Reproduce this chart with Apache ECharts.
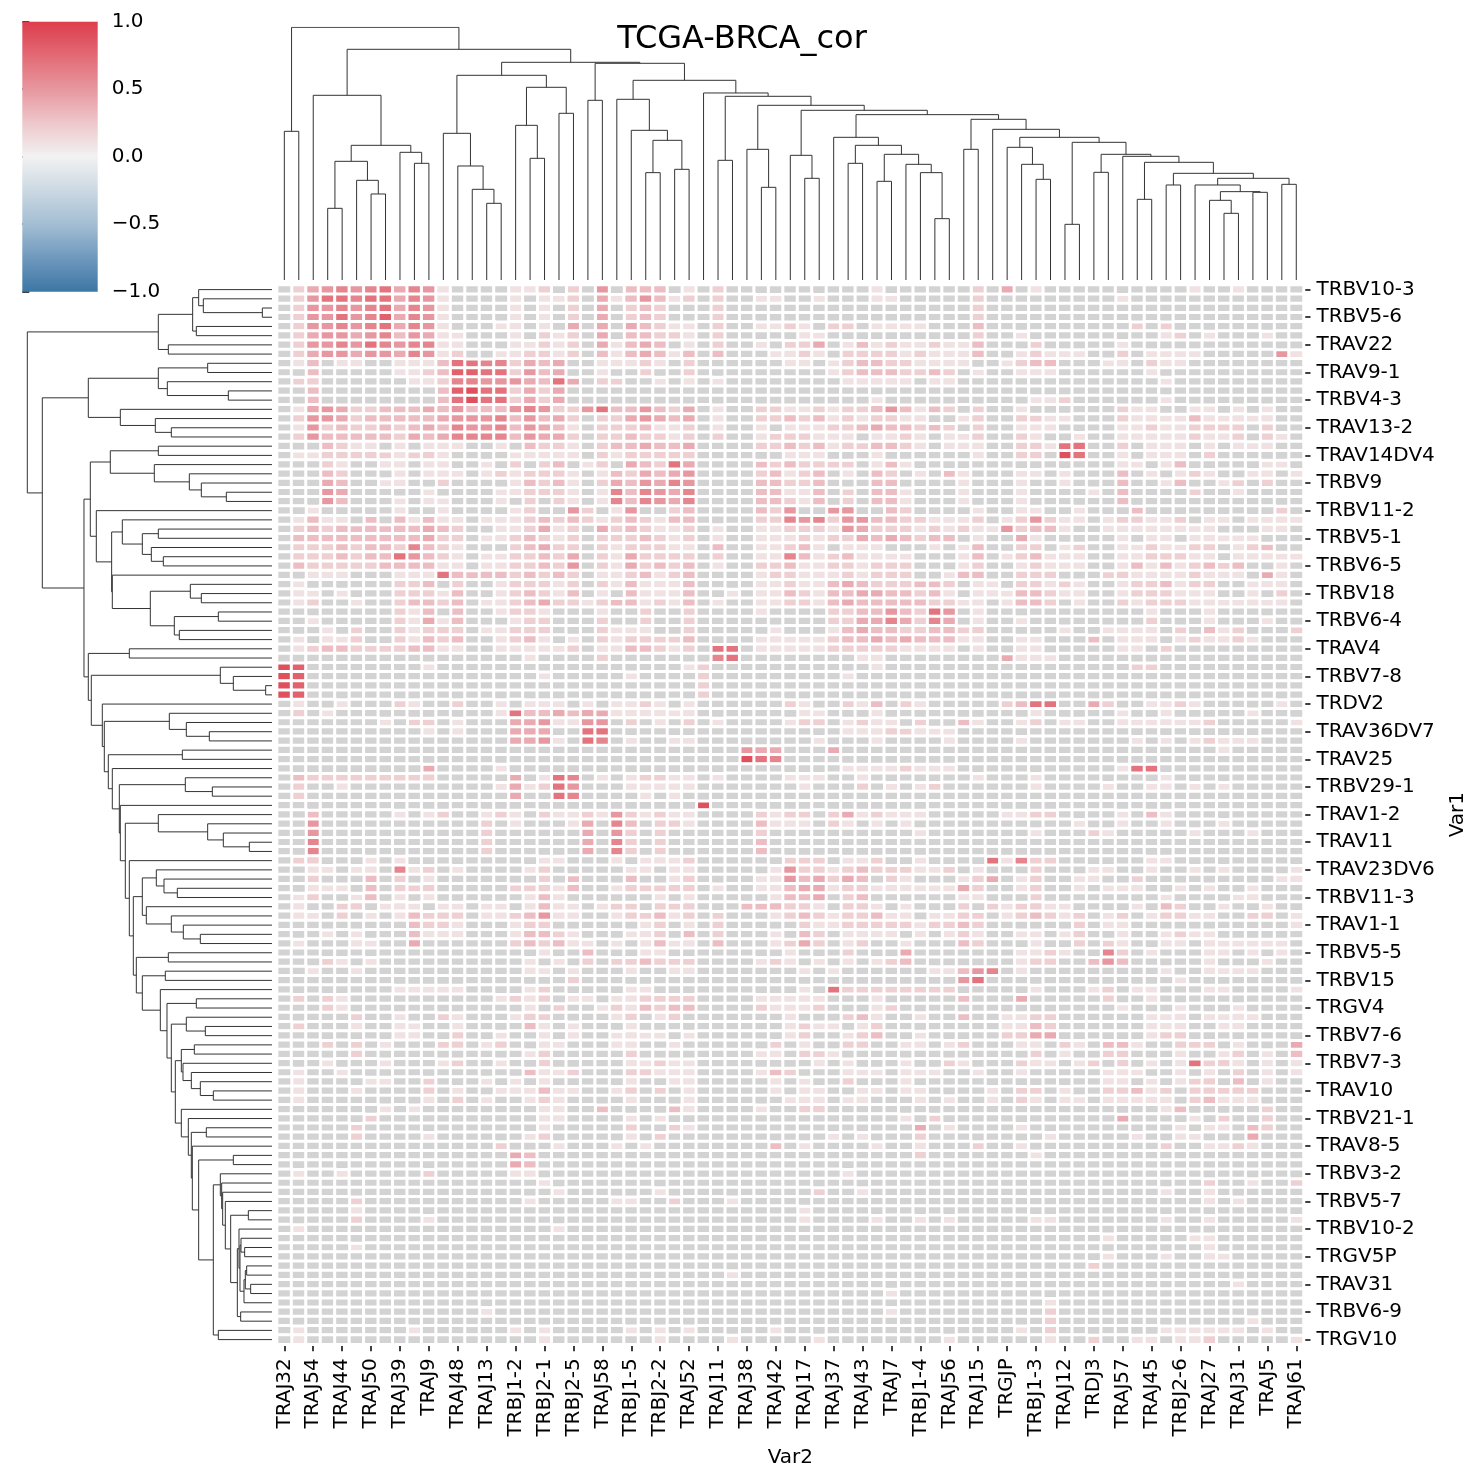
<!DOCTYPE html>
<html><head><meta charset="utf-8">
<script src="https://cdn.jsdelivr.net/npm/echarts/dist/echarts.min.js"></script>
<style>html,body{margin:0;padding:0;background:#fff}#c{width:1484px;height:1484px}</style>
</head><body><div id="c"></div>
<script>
// ---------------- data ----------------
const xLabels = ['TRAJ32','TRAJ54','TRAJ44','TRAJ50','TRAJ39','TRAJ9','TRAJ48','TRAJ13','TRBJ1-2','TRBJ2-1','TRBJ2-5','TRAJ58','TRBJ1-5','TRBJ2-2','TRAJ52','TRAJ11','TRAJ38','TRAJ42','TRAJ17','TRAJ37','TRAJ43','TRAJ7','TRBJ1-4','TRAJ56','TRAJ15','TRGJP','TRBJ1-3','TRAJ12','TRDJ3','TRAJ57','TRAJ45','TRBJ2-6','TRAJ27','TRAJ31','TRAJ5','TRAJ61'];
const yLabels = ['TRBV10-3','TRBV5-6','TRAV22','TRAV9-1','TRBV4-3','TRAV13-2','TRAV14DV4','TRBV9','TRBV11-2','TRBV5-1','TRBV6-5','TRBV18','TRBV6-4','TRAV4','TRBV7-8','TRDV2','TRAV36DV7','TRAV25','TRBV29-1','TRAV1-2','TRAV11','TRAV23DV6','TRBV11-3','TRAV1-1','TRBV5-5','TRBV15','TRGV4','TRBV7-6','TRBV7-3','TRAV10','TRBV21-1','TRAV8-5','TRBV3-2','TRBV5-7','TRBV10-2','TRGV5P','TRAV31','TRBV6-9','TRGV10'];
const colorbarTicks = [-1, -0.5, 0, 0.5, 1];
// correlation levels per cell: '.' = not shown (grey), digit d = correlation d/10
const cellsCols0to23 = [
".24565674651....112.2.5.",".25776774651....1.112.41",".25565674651....1.1.2.4.",".25575684651....1.1.2.4.",
".25565674651...11.1.4.4.",".245545635411...1.212.4.",".255657656611...11212.41",".245545546512..112212.31",
".13.11..111377662434..11","..3.....112388772534..1.",".22......112665554374.22","..3........389772424....",
"..3........379772424....",".14542233343533356522573",".25542333334555635342.22",".15232232343655635431.22",
".25333332434666635442.22","...3211.1.111..1.3221.23",".11222221221....11111.21","...21..11.11..1.2.23.12.",
"...32...1.111.1212221.13","...43..11..2....13231.24","...54.....1....112221.16","...53...1.11...1.2.21.16",
"..1.....1..1....12..52.1",".1311.3.31311.1112323212",".232333333432..112412.42",".333333333422.1123212.22",
".222323326321...23422.21",".222323375321.1122324.21",".322222333311.1122325.21","..111...1117333323232.11",
".1......223.2..122212.21",".11.1...22213..123213.1.",".12..1..23323.1123422123","........213.3..1221...1.",
"..1.....21413...122...2.","...1.2..21222.11222...21",".1.112..21323..1231.1.21",".123322223311..111112.11",
".................1....2.","98........1.............","98................1.....","98......................",
"98......................",".1..1...21..2..1.111.1.1",".2.1...........173343441",".......1.22.1...4451155.",
"..........1.1...444..77.","................4451.76.","........................","........................",
"..........4....1........",".3222222222.....4.176.1.",".2..1..........141275...",".2..............4..76...",
"........................","..3.....1.12..121.211215","..5...........2.1...14.6","..5...........2......4.5",
"..6...........2......4.6","..6...........2......4.6",".22...1.1.........11...1","..11.11.612.1....12.....",
"..2...3.2.1.......2.3...","..111.3.222.....22213..1",".12..13.1.1......131....",".1..22.111.11.11.1311.12",
".11.2.1.13222.1123511..1",".........3221...122.....","...1.1...3111...13321...",".1...11..4......232311.1",
"..................1..3..","...21.1..........1.1.2.2","..1..1...........11.1...","....................2...",
"........11111....12.....",".2.21..........1212.11.1","...21............1.2..12",".....2..1..21...122....1",
".2...1..11..1....31.1...","........11..2..1..1.1..1","...2.2.1...22.12..11...1",".....2...........12.....",
"...1...1...12..1..2.....",".1..1............3112...",".1....11..2...1.1.1.....",".1...1....2.1..111311..1",
".1........1.2.1..121....",".......1.1........11..3.","......2...........11....",".....2............1.....",
".....2....1......12.....","...............2...1...1","................43......","................43......",
".1..1.....2.....11......","..................1.....","...................1....",".....2...........1.....1",
".....1..................",".....2....1.............",".1.................1....","........................",
".....1..................","........................","........................","........................",
"........................","........................","........................","..............1.........",
"........................",".1.......1......1.1.....",".1................1....."
];
const cellsCols24to47 = [
"333.1.2..........1......","35312.2..11..1...11.....","232...2.................","232...2.................",
"43211.2..1121.22.1111...","33221.2.....11..........","343.1.2..1.224.131211211","34313.3...1121.222212111",
"121.2......11.1233221111",".2..2.........123332232.","..1.1.1........11111.11.","........................",
".................1......","35324.1..22112122353132.","45434.1..223231212211..1","23112.1..1.111223433232.",
"32212.2..1222111.1121.11","34334....223231223321.11","22222......111...1......","43274....3232222.131....",
"24345....23123.1.32.1.31","35465....33223...33....1","36546....33113.2.331...1","36546....33213.2.331...1",
"5..23....325..55..32....","32133....226562553322111","32112.1..112221542221212","23212.1..11121224343233.",
"22211.3..11231.111...1.1","42222.2..11631231111...1","42323.1..22311221222...1","23123....12211121222..13",
"31113....11211343222332.","31113..1.11321334433231.","31213.1..112213433333221",".2..2....1....223353275.",
".2..2.........224464264.","11..2.....1...1343322332","22223....111112334343331","33212.77.11111222221111.",
"......67........11......","....12...........1......","1....2.........1........",".....2..................",
".....2..................","121.1......21..213.21...","11111.......11...1......","2.1.2.1....122.1211.2..3",
"...............11122111.","1..11........1...1....1.","........544...4.........","........976.............",
"...............11112111.","12211.1....111..1.......","11111.......1...2.1.12..",".1.1....................",
".....9..................","21211....2122.2412111...","3.221....3111.21.1.1....","2.2......2..........1...",
"2.2......3..............","2.2......3..............",".1112......222.112..1...","11.11.....1522123222112.",
"3..12....11534243.21...1","22222.1..113441221111114","..1.1.....1334.23......1","2.222...333221.221.1...2",
"22312.2...1232122311.112",".12.1.2.....211222221223","112.3.2...1.32.1111.1.12",".1311.3...1242.12..1...3",
".11........1...2...4....","23222....121.1.1.123....","1..11.......1.1......113",".......................5",
"11..........1.722222222.","12222....11111...1.....3","13233....21112...12.....","2.12.......1...231..1..3",
"1..........1211.12......","111.1......12..123..1...","1..1......2.1..22..11.12","2........11.221.........",
"11211........1.1...1..21","22111....132...111.111..","1..11.....1.1..2...1....","2.2.1.....1.11..11.11...",
"1...1......111.11...1.1.","...31....1..22..........","1.1................1.2..","2..21...............4.1.",
"1.2...........1.1...2...",".1........3.1....1..1...","....................2...","........................",
"...............1........","........................","..1..........2..1.......","1..2...1................",
"............1...........","............1....1..1.1.","........................","........................",
"........................","........................","........................",".......1................",
"........................","..................1.....","........................","..................1.....",
"........................","1.1.1.....1.............","..1....1.....1........1."
];
const cellsCols48to70 = [
"2.4.1..........1..1....","2.........1............","2......................","2......................",
"3..........2.2.........","2..1.........12.1...1..","3...2.....1............","3..12111..2.1111.....51",
"..1233...11.211........","1..111......1..........",".............1.........",".......................",
"....112......1.........","2..1......211..11.1.1..","2..2211...21111311111..","2..111....112112222.2..",
"2..21..1..111112112.21.","1..22177..2.111.1.111..","1..22.97..1.111.2......","..........11.13.....11.",
"...11.1...3.1.121..11.1","...1..1...3..13..12.2..","...1....1.3....2..1....","...1......3............",
"1..11..1...3.........2.","2.125211.122112.11.1111","1152331..11111111...11.","1..41.....1.11.11111...",
"3..22.12..1121122.123..","3.123111..1122211.11111","2..12111..131312323..1.","3..222...2211112111.41.",
"11.22121..1223122..111.","11133211..1222111..1.2.","1.1332.1..212221111111.","1...........1...1......",
"1..1........2...1...1..","2.....1..1111.2.312...2","1..11...3.111.121121...","1..11.....11.2.........",
"..4111.................","...........22..........",".......................",".......................",
".......................","..2377..42..1121.....1.","....1.....1..1.....1...","1..12.11..1111112.....1",
".......................","...1.......1.1.12111...",".................1.....",".......................",
"..........177..........","1...1........1.........","....1....1..11.1.1.....",".......................",
".......................","..1122....1.31.........",".......1..1..1...1.....","....1...21.....1...1...",
".......................",".......................",".71622......11.........","1...2...11..1..1.1....1",
"24.12..11..2.........11","2..12..1.111..1.1..1...","1...2........1....11...",".212211....1.32..1..1..",
"2.123212.12.12211..22.1","2......2.11...........1","1..11.12..1..1211......","2...1..2.21..11.111111.",
"...1121..62.1...11.1.1.","...122..353.....1...1..","56.1.........1..1111...","7.............1........",
"....1...12.11...11....1","...4.....2..1..........","..........1...1...1....","..1122......111.1111...",
"..1132......111..11....","..2244......122........","...11.21.331..222.1...4","....2.1..22...1..12.1.3",
"...211.12.2.1.17221.1.1","1..1.....111..1.1.2.1.1",".........11.1.122.3.1..",".1.22.1..22312.22222...",
".1.21.11.11111.23111...",".............13.....2..","..........4....1.2..2..","...1..........1.11.32..",
".....1.....1..11...4...","2..1.........2..1121...","....1..................",".......................",
".......................","................2..1..2",".............1..1......","................1.1....",
".......................","....11.......1..1.....1",".......................",".........1.....11......",
"................1......",".........1...1..11.....","........2..............",".......................",
"..................1....",".......................",".....1.................",".....2.................",
".....2.............1...","...1.2.......111111.1..",".....1..2..11.112.....1"
];
// dendrogram merges over leaf ranges: [first leaf, first leaf of right child, last leaf, merge height]
const colMerges = [
[0,1,1,446],[3,4,4,215],[6,7,7,258],[5,6,7,299],[3,5,7,356],[9,10,10,350],[8,9,10,383],[3,8,10,404],[2,3,10,554],
[14,15,15,230],[13,14,15,272],[12,13,15,342],[11,12,15,440],[17,18,18,365],[16,17,18,464],[19,20,20,500],[16,19,20,578],[11,16,20,614],
[21,22,22,539],[25,26,26,322],[27,28,28,332],[25,27,28,419],[24,25,28,449],[23,24,28,542],[30,31,31,359],[33,34,34,278],[32,33,34,392],
[36,37,37,305],[35,36,37,374],[39,40,40,350],[41,42,42,296],[45,46,46,184],[44,45,46,322],[43,44,46,347],[41,43,46,377],[39,41,46,404],
[38,39,46,428],[47,48,48,392],[52,53,53,302],[51,52,53,347],[50,51,53,398],[54,55,55,167],[56,57,57,323],[59,60,60,242],[61,62,62,285],
[65,66,66,200],[64,65,66,239],[67,68,68,263],[64,67,68,265],[63,64,68,285],[69,70,70,287],[63,69,70,305],[61,63,70,320],[59,61,70,353],
[58,59,70,371],[56,58,70,377],[54,56,70,413],[50,54,70,428],[49,50,70,452],[47,49,70,482],[38,47,70,496],[35,38,70,509],[32,35,70,524],
[30,32,70,551],[29,30,70,561],[23,29,70,599],[21,23,70,650],[11,21,70,653],[2,11,70,692],[0,2,70,758]
];
const rowMerges = [
[2,3,3,29],[1,2,3,206],[0,1,3,220],[4,5,5,227],[0,4,5,238],[6,7,7,311],[0,6,7,341],[8,9,9,193],[11,12,12,131],[10,11,12,314],
[8,10,12,341],[15,16,16,302],[14,15,16,350],[13,14,16,455],[8,13,16,551],[17,18,18,341],[22,23,23,137],[21,22,23,212],[20,21,23,248],
[19,20,23,353],[17,19,23,485],[26,27,27,341],[29,30,30,326],[28,29,30,362],[26,28,30,389],[25,26,30,449],[33,34,34,212],[32,33,34,245],
[35,36,36,161],[37,38,38,278],[35,37,38,293],[32,35,38,365],[31,32,38,479],[25,31,38,481],[24,25,38,527],[17,24,38,545],[39,40,40,428],
[43,44,44,19],[42,43,44,116],[41,42,44,155],[48,49,49,188],[47,48,49,257],[46,47,49,308],[50,51,51,269],[54,55,55,179],[53,54,55,260],
[60,61,61,68],[59,60,61,146],[58,59,61,193],[57,58,61,341],[65,66,66,284],[64,65,66,324],[63,64,66,347],[70,71,71,215],[69,70,71,266],
[68,69,71,302],[67,68,71,377],[63,67,71,389],[72,73,73,311],[74,75,75,320],[77,78,78,227],[80,81,81,200],[79,80,81,257],[82,83,83,233],
[87,88,88,176],[86,87,88,215],[85,86,88,242],[84,85,88,267],[82,84,88,272],[91,92,92,197],[94,95,95,116],[100,101,101,71],[104,105,105,82],
[103,104,105,93],[106,107,107,76],[108,109,109,64],[106,108,109,80],[106,110,110,84],[103,106,110,96],[102,103,110,99],[111,112,112,94],
[102,111,112,104],[100,102,112,124],[99,100,112,140],[98,99,112,148],[97,98,112,151],[96,97,112,155],[113,114,114,161],[96,113,114,176],
[94,96,114,220],[93,94,114,239],[91,93,114,242],[90,91,114,251],[89,90,114,272],[82,89,114,290],[79,82,114,302],[77,79,114,315],
[76,77,114,335],[74,76,114,389],[72,74,114,407],[63,72,114,416],[62,63,114,428],[57,62,114,440],[56,57,114,455],[53,56,114,458],
[52,53,114,479],[50,52,114,491],[46,50,114,503],[45,46,114,509],[41,45,114,542],[39,41,114,551],[17,39,114,564],[8,17,114,689],[0,8,114,734]
];
const colorStops = ['#3c77a5','#6f98bd','#a3bed3','#cbd8e2','#f2f2f2','#edc7cb','#e7979f','#e26a75','#dd3d4c'];

// ---------------- build ----------------
const NC = 71, NR = 115;
function fit(s, n){ s = s || ''; if (s.length < n) s += '.'.repeat(n - s.length); return s.slice(0, n); }
const valData = [], greyData = [];
for (let r = 0; r < NR; r++) {
  const s = fit(cellsCols0to23[r], 24) + fit(cellsCols24to47[r], 24) + fit(cellsCols48to70[r], 23);
  for (let c = 0; c < NC; c++) {
    const ch = s[c];
    if (ch === '.' ) greyData.push([c, r, 0]); else valData.push([c, r, (+ch) / 10]);
  }
}
const xCats = Array.from({length: NC}, (_, i) => i % 2 === 0 ? xLabels[i / 2] : xLabels[(i - 1) / 2] + '\u200b');
const yCats = Array.from({length: NR}, (_, i) => i % 3 === 0 ? yLabels[i / 3] : yLabels[Math.floor(i / 3)] + '\u200b'.repeat(i % 3));

function dendroSegments(merges, last) {
  const map = {};
  merges.forEach(m => { map[m[0] + '-' + m[2]] = m; });
  const segs = [];
  function build(a, c) {
    if (a === c) return {p: a, h: 0};
    let m = map[a + '-' + c];
    if (!m) { m = [a, Math.floor((a + c) / 2) + 1, c, 0]; }
    const l = build(a, m[1] - 1), r = build(m[1], c);
    const h = Math.max(m[3], l.h, r.h);
    segs.push([[l.p, l.h], [l.p, h], [r.p, h], [r.p, r.h]]);
    return {p: (l.p + r.p) / 2, h};
  }
  const root = build(0, last);
  return {segs, maxH: root.h};
}
const colD = dendroSegments(colMerges, NC - 1);
const rowD = dendroSegments(rowMerges, NR - 1);

const FONT = 'DejaVu Sans';
const HM = {left: 277.1, top: 285, width: 1026.4, height: 1059.2};
const grids = [
  Object.assign({outerBoundsMode: 'none', containLabel: false}, HM),
  {left: 277.1, top: 27.3, width: 1026.4, height: 252.7, outerBoundsMode: 'none', containLabel: false},
  {left: 27.3, top: 285, width: 244.7, height: 1059.2, outerBoundsMode: 'none', containLabel: false},
  {left: 22.3, top: 21.7, width: 75.4, height: 270, outerBoundsMode: 'none', containLabel: false}
];
const tickStyle = {color: '#000', width: 1.5};
const hidden = {show: false};

const option = {
  animation: false,
  backgroundColor: '#fff',
  title: {text: 'TCGA-BRCA_cor', left: 'center', top: 24, padding: 0,
    textStyle: {fontFamily: FONT, fontSize: 32, fontWeight: 'normal', color: '#000', lineHeight: 32}},
  grid: grids,
  visualMap: {type: 'continuous', show: false, min: -1, max: 1, seriesIndex: 0, dimension: 2,
    inRange: {color: colorStops}},
  xAxis: [
    {gridIndex: 0, type: 'category', data: xCats, position: 'bottom',
      axisLine: hidden, splitLine: hidden,
      axisTick: {show: true, interval: 1, alignWithLabel: true, length: 7, lineStyle: tickStyle},
      axisLabel: {interval: 1, rotate: 90, margin: 14, fontSize: 20, fontFamily: FONT, color: '#000', hideOverlap: false}},
    {gridIndex: 1, type: 'value', min: -0.5, max: NC - 0.5, show: false},
    {gridIndex: 2, type: 'value', min: 0, max: rowD.maxH, inverse: true, show: false},
    {gridIndex: 3, type: 'value', min: 0, max: 1, show: false}
  ],
  yAxis: [
    {gridIndex: 0, type: 'category', data: yCats, inverse: true, position: 'right',
      axisLine: hidden, splitLine: hidden,
      axisTick: {show: true, interval: 2, alignWithLabel: true, length: 7, lineStyle: tickStyle},
      axisLabel: {interval: 2, margin: 13, fontSize: 20, fontFamily: FONT, color: '#000', hideOverlap: false}},
    {gridIndex: 1, type: 'value', min: 0, max: colD.maxH, show: false},
    {gridIndex: 2, type: 'value', min: -0.5, max: NR - 0.5, inverse: true, show: false},
    {gridIndex: 3, type: 'value', min: colorbarTicks[0], max: colorbarTicks[colorbarTicks.length - 1], interval: 0.5,
      position: 'right', axisLine: hidden, splitLine: hidden,
      axisTick: {show: true, length: 7, lineStyle: tickStyle},
      axisLabel: {margin: 14, fontSize: 20, fontFamily: FONT, color: '#000',
        formatter: v => (v < 0 ? '\u2212' : '') + Math.abs(v).toFixed(1)}}
  ],
  series: [
    {type: 'heatmap', xAxisIndex: 0, yAxisIndex: 0, data: valData, progressive: 0,
      itemStyle: {borderColor: '#fff', borderWidth: 3}, emphasis: {disabled: true}},
    {type: 'heatmap', xAxisIndex: 0, yAxisIndex: 0, data: greyData, progressive: 0,
      itemStyle: {color: '#d3d3d3', borderColor: '#fff', borderWidth: 3}, emphasis: {disabled: true}},
    {type: 'lines', coordinateSystem: 'cartesian2d', xAxisIndex: 1, yAxisIndex: 1, polyline: true, silent: true,
      lineStyle: {color: '#333', width: 1, opacity: 1}, data: colD.segs.map(s => ({coords: s}))},
    {type: 'lines', coordinateSystem: 'cartesian2d', xAxisIndex: 2, yAxisIndex: 2, polyline: true, silent: true,
      lineStyle: {color: '#333', width: 1, opacity: 1}, data: rowD.segs.map(s => ({coords: s.map(p => [p[1], p[0]])}))},
    {type: 'custom', xAxisIndex: 3, yAxisIndex: 3, data: [[0, 0]], silent: true,
      renderItem: (params, api) => {
        const p0 = api.coord([0, 1]), p1 = api.coord([1, -1]);
        const n = colorStops.length;
        const stops = colorStops.map((c, i) => ({offset: i / (n - 1), color: colorStops[n - 1 - i]}));
        return {type: 'rect', shape: {x: p0[0], y: p0[1], width: p1[0] - p0[0], height: p1[1] - p0[1]},
          style: {fill: new echarts.graphic.LinearGradient(0, 0, 0, 1, stops)}};
      }}
  ],
  graphic: [
    {type: 'text', x: HM.left + HM.width / 2, y: 1458,
      style: {text: 'Var2', font: '20px "DejaVu Sans"', fill: '#000', align: 'center', verticalAlign: 'middle', textAlign: 'center', textVerticalAlign: 'middle'}},
    {type: 'text', x: 1458, y: HM.top + HM.height / 2, rotation: Math.PI / 2,
      style: {text: 'Var1', font: '20px "DejaVu Sans"', fill: '#000', align: 'center', verticalAlign: 'middle', textAlign: 'center', textVerticalAlign: 'middle'}}
  ]
};
const chart = echarts.init(document.getElementById('c'), null, {renderer: 'canvas', width: 1484, height: 1484});
chart.setOption(option);
</script>
</body></html>
